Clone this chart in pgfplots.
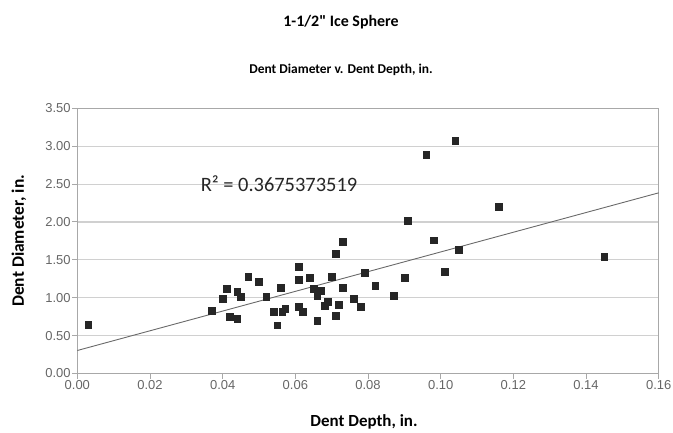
\documentclass[border=0pt]{standalone}
\usepackage{fontspec}
\setmainfont{Carlito}
\newfontfamily\arialfont{Liberation Sans}
\usepackage{pgfplots}
\pgfplotsset{compat=1.18}
\definecolor{gridgray}{HTML}{D0D0D0}
\definecolor{axisgray}{HTML}{A8A8A8}
\definecolor{ticktext}{HTML}{666666}
\definecolor{markgray}{HTML}{262626}
\definecolor{trendgray}{HTML}{6A6A6A}

\begin{document}
\begin{tikzpicture}
\begin{axis}[
    scale only axis,
    width=581bp, height=265bp,
    xmin=0, xmax=0.16,
    ymin=0, ymax=3.5,
    xtick={0,0.02,...,0.16},
    ytick={0,0.5,...,3.5},
    ymajorgrids,
    grid style={gridgray, line width=1.2bp},
    axis line style={axisgray, line width=1bp},
    tick style={axisgray, line width=1bp},
    tick align=outside,
    major tick length=5bp,
    xtick pos=bottom, ytick pos=left,
    ticklabel style={font=\arialfont\fontsize{13}{15}\selectfont, text=ticktext, inner sep=1.5bp},
    /pgf/number format/assume math mode=true,
    /pgf/number format/.cd, fixed, fixed zerofill, precision=2,
    /tikz/.cd,
    scaled x ticks=false,
    clip=false,
]
% linear trendline (Excel), endpoints
\addplot[trendgray, line width=0.9bp] coordinates {(0,0.304) (0.16,2.385)};

\addplot[only marks, mark=square*, mark size=3.4bp, markgray] coordinates {
    (0.003,0.648) (0.037,0.833) (0.040,0.988) (0.041,1.120) (0.042,0.754)
    (0.044,1.075) (0.044,0.723) (0.045,1.010) (0.047,1.274) (0.050,1.208)
    (0.052,1.010) (0.054,0.820) (0.055,0.639) (0.056,1.128) (0.0564,0.820)
    (0.0572,0.856) (0.061,1.415) (0.061,1.239) (0.061,0.877) (0.062,0.820)
    (0.064,1.260) (0.065,1.120) (0.067,1.098) (0.066,1.030) (0.066,0.700)
    (0.068,0.900) (0.069,0.952) (0.070,1.274) (0.071,1.583) (0.072,0.909)
    (0.071,0.767) (0.073,1.737) (0.073,1.133) (0.076,0.988) (0.078,0.877)
    (0.079,1.335) (0.082,1.155) (0.087,1.030) (0.090,1.266) (0.091,2.015)
    (0.096,2.893) (0.098,1.760) (0.101,1.345) (0.104,3.070) (0.105,1.636)
    (0.116,2.200) (0.145,1.538)
};

\node[anchor=west, font=\fontsize{20.5}{24}\selectfont, text=black!85]
    at (axis cs:0.0330,2.50) {R² = 0.3675373519};
\end{axis}
\node[font=\bfseries\fontsize{16}{18}\selectfont] at ([xshift=-27bp,yshift=86bp]current axis.north) {1-1/2\textquotedbl{} Ice Sphere};
\node[font=\bfseries\fontsize{13.5}{15}\selectfont] at ([xshift=-27bp,yshift=38bp]current axis.north) {Dent Diameter v. Dent Depth, in.};
\node[font=\bfseries\fontsize{17}{19}\selectfont] at ([xshift=-4bp,yshift=-48bp]current axis.south) {Dent Depth, in.};
\node[font=\bfseries\fontsize{17.5}{19}\selectfont, rotate=90] at ([xshift=-58.5bp]current axis.west) {Dent Diameter, in.};
\path ([xshift=-77.3bp,yshift=-58bp]current axis.south west) rectangle ([xshift=14.3bp,yshift=108.3bp]current axis.north east);
\end{tikzpicture}
\end{document}
